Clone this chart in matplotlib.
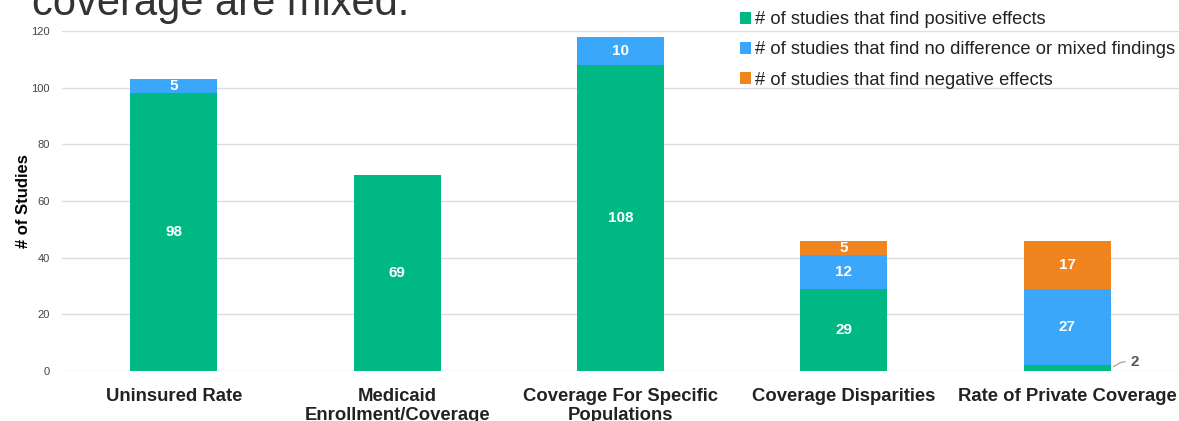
import numpy as np
import matplotlib.pyplot as plt
from matplotlib.patches import Patch

plt.rcParams['font.family'] = ['Liberation Sans', 'DejaVu Sans']

# Данные
categories = ['Uninsured Rate', 'Medicaid\nEnrollment/Coverage', 'Coverage For Specific\nPopulations',
              'Coverage Disparities', 'Rate of Private Coverage']
positive = [98, 69, 108, 29, 2]
mixed = [5, 0, 10, 12, 27]
negative = [0, 0, 0, 5, 17]
series_names = ['# of studies that find positive effects',
                '# of studies that find no difference or mixed findings',
                '# of studies that find negative effects']
colors = ['#00b884', '#3ba7fb', '#f0841e']

fig = plt.figure(figsize=(11.79, 4.21), dpi=100)
ax = fig.add_axes([0.0526, 0.1188, 0.9474, 0.8076])

x = np.arange(len(categories))
width = 0.39
bottom = np.zeros(len(categories))
for vals, color in zip([positive, mixed, negative], colors):
    vals = np.array(vals, dtype=float)
    ax.bar(x, vals, width, bottom=bottom, color=color, zorder=2)
    for xi, b, v in zip(x, bottom, vals):
        if v <= 0:
            continue
        if v < 4:
            # маленькое значение: подпись снаружи с выноской
            ax.annotate(f'{int(v)}', xy=(xi + width / 2, b + v / 2), xytext=(xi + width / 2 + 0.09, b + v + 1.2),
                        fontsize=11, fontweight='bold', color='#555555', va='center', ha='left',
                        arrowprops=dict(arrowstyle='-', color='#999999', lw=0.8,
                                        connectionstyle='angle,angleA=0,angleB=30,rad=2'))
        else:
            ax.text(xi, b + v / 2, f'{int(v)}', ha='center', va='center', color='white',
                    fontsize=11, fontweight='bold', zorder=3)
    bottom += vals

ax.set_xlim(-0.5, 4.5)
ax.set_ylim(0, 120)
ax.set_yticks(np.arange(0, 121, 20))
ax.grid(axis='y', color='#dddddd', lw=1, zorder=0)
ax.set_axisbelow(True)
for s in ax.spines.values():
    s.set_visible(False)
ax.tick_params(axis='y', length=0, labelsize=8, labelcolor='#444444', pad=9)
ax.tick_params(axis='x', length=0, pad=12)
ax.set_xticks(x)
ax.set_xticklabels(categories, fontsize=13.3, fontweight='bold', color='#222222', linespacing=1.2)
ax.set_ylabel('# of Studies', fontsize=12, fontweight='bold', labelpad=0)

# Заголовок (обрезан сверху)
fig.text(0.027, 1 - 15 / 421, 'coverage are mixed.', fontsize=30, color='#333333', va='baseline', ha='left')

handles = [Patch(facecolor=c) for c in colors]
fig.legend(handles, series_names, loc='upper left', bbox_to_anchor=(0.617, 1.004), frameon=False,
           fontsize=13.2, handlelength=0.6, handleheight=0.6, handletextpad=0.2,
           labelspacing=0.72, borderaxespad=0.3, labelcolor='#222222')

fig.savefig('out.png', dpi=100)
